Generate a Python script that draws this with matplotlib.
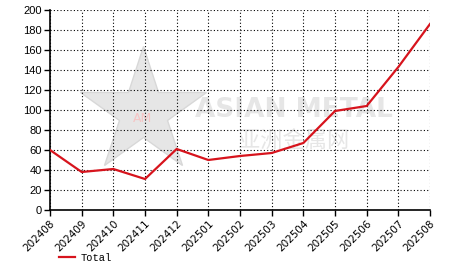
import matplotlib
matplotlib.use("Agg")
from matplotlib import pyplot as plt
from matplotlib.lines import Line2D

# Monthly values
months = ["202408", "202409", "202410", "202411", "202412", "202501", "202502",
          "202503", "202504", "202505", "202506", "202507", "202508"]
total = [60, 38, 41, 31, 61, 50, 54, 57, 67, 99, 104, 143, 186]
y_ticks = [0, 20, 40, 60, 80, 100, 120, 140, 160, 180, 200]

W, H = 466, 272
fig = plt.figure(figsize=(W / 100, H / 100), dpi=100)
ax = fig.add_axes([50 / W, 1 - 210 / H, 380 / W, 200 / H])
ax.set_zorder(2)
ax.patch.set_alpha(0)

# faint watermark behind the data
fig.add_artist(Line2D([143 / W], [1 - 112 / H], marker="*", markersize=95,
                      color="#e6e6e6", markeredgecolor="#d8d8d8",
                      transform=fig.transFigure, zorder=0))
fig.text(143 / W, 1 - 118 / H, "AM", fontsize=9, color="#f6c4c4",
         ha="center", va="center", zorder=0.5)
fig.text(294 / W, 1 - 110 / H, "ASIAN METAL", fontsize=19, color="#e6e6e6",
         ha="center", va="center", fontweight="bold", zorder=0.5)
fig.text(294 / W, 1 - 140 / H, "亚洲金属网", fontsize=16, color="#e6e6e6",
         ha="center", va="center", family=["Noto Sans CJK SC", "DejaVu Sans"], zorder=0.5)

x = list(range(len(months)))
ax.plot(x, total, color="#d7141d", linewidth=1.6, label="Total", zorder=3)

ax.set_xlim(0, len(months) - 1)
ax.set_ylim(0, 200)
ax.set_xticks(x)
ax.set_xticklabels(months, rotation=45, ha="right", rotation_mode="anchor",
                   fontsize=7.5, family="DejaVu Sans")
ax.set_yticks(y_ticks)
ax.set_yticklabels([str(v) for v in y_ticks], fontsize=8, family="Liberation Sans")

ax.grid(True, color="black", linestyle=(0, (1, 2)), linewidth=0.8)
for side in ["top", "right"]:
    ax.spines[side].set_visible(False)
for side in ["left", "bottom"]:
    ax.spines[side].set_linewidth(1.2)
ax.tick_params(axis="both", direction="out", length=4, width=1, pad=2)

leg = fig.legend(loc="lower left", bbox_to_anchor=(50 / W, 0), frameon=False,
                 prop={"family": "Liberation Mono", "size": 7.5},
                 handlelength=1.5, handletextpad=0.5)

fig.savefig("out.png", dpi=100)
